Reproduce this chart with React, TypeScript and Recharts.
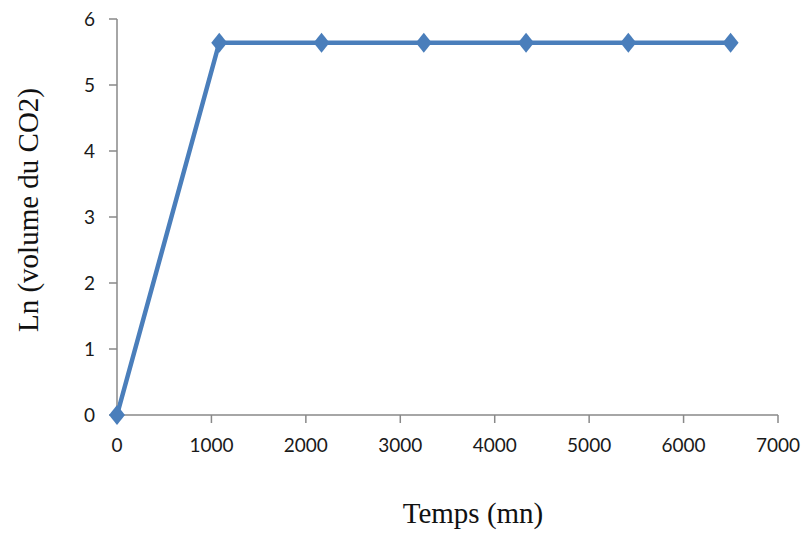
import React from 'react';
import { LineChart, Line, XAxis, YAxis, Label } from 'recharts';

const timeMinutes = [0, 1083, 2166, 3249, 4332, 5415, 6498];
const lnVolume = [0, 5.64, 5.64, 5.64, 5.64, 5.64, 5.64];
const xTicks = [0, 1000, 2000, 3000, 4000, 5000, 6000, 7000];
const yTicks = [0, 1, 2, 3, 4, 5, 6];

const data = timeMinutes.map((t, i) => ({ t, v: lnVolume[i] }));

const BLUE = '#4a7ebb';
const AXIS = '#898989';

function Diamond(props: any) {
  const { cx, cy, index } = props;
  if (cx == null || cy == null) return null;
  return (
    <polygon
      key={index}
      points={`${cx},${cy - 10} ${cx + 8},${cy} ${cx},${cy + 10} ${cx - 8},${cy}`}
      fill={BLUE}
    />
  );
}

export default function App() {
  const tickStyle = { fontFamily: 'Lato, sans-serif', fontSize: 19, fill: '#1a1a1a' };
  return (
    <div style={{ position: 'absolute', left: 0, top: 0, width: 806, height: 539, background: '#fff' }}>
      <LineChart width={806} height={539} data={data} margin={{ top: 19, right: 28, left: 57, bottom: 64 }}>
        <XAxis
          dataKey="t"
          type="number"
          domain={[0, 7000]}
          ticks={xTicks}
          stroke={AXIS}
          strokeWidth={1.5}
          tickSize={8}
          tickMargin={16}
          tick={tickStyle}
          height={60}
          interval={0}
        >
          <Label
            content={({ viewBox }: any) => (
              <text
                x={473}
                y={viewBox.y + 108}
                textAnchor="middle"
                style={{ fontFamily: '"Liberation Serif", serif', fontSize: 29, fill: '#111' }}
              >
                Temps (mn)
              </text>
            )}
          />
        </XAxis>
        <YAxis
          type="number"
          domain={[0, 6]}
          ticks={yTicks}
          stroke={AXIS}
          strokeWidth={1.5}
          tickSize={8}
          tickMargin={14}
          tick={tickStyle}
          width={60}
          interval={0}
        >
          <Label
            content={() => {
              const cx = 28;
              const cy = 210;
              return (
                <text
                  x={cx}
                  y={cy}
                  textAnchor="middle"
                  dominantBaseline="central"
                  transform={`rotate(-90 ${cx} ${cy})`}
                  style={{ fontFamily: '"Liberation Serif", serif', fontSize: 29, fill: '#111' }}
                >
                  Ln (volume du CO2)
                </text>
              );
            }}
          />
        </YAxis>
        <Line
          type="linear"
          dataKey="v"
          stroke={BLUE}
          strokeWidth={4.5}
          dot={<Diamond />}
          activeDot={false}
          isAnimationActive={false}
        />
      </LineChart>
    </div>
  );
}
